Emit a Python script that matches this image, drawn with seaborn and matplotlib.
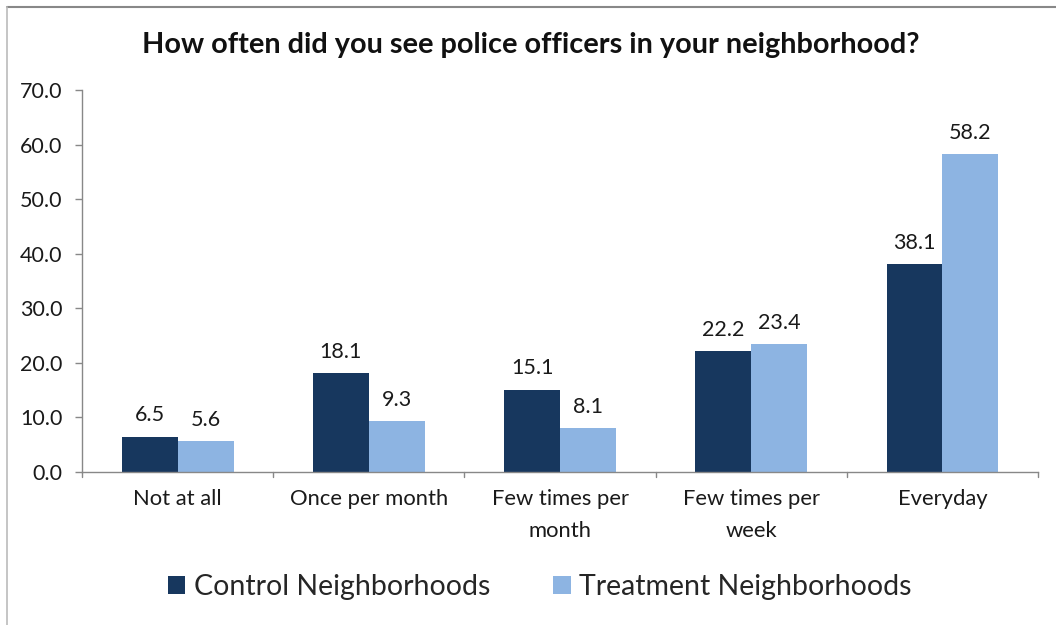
import matplotlib
matplotlib.use("Agg")
import matplotlib.pyplot as plt
from matplotlib.lines import Line2D
import seaborn as sns
import pandas as pd

categories = ["Not at all", "Once per month", "Few times per\nmonth", "Few times per\nweek", "Everyday"]
control = [6.5, 18.1, 15.1, 22.2, 38.1]
treatment = [5.6, 9.3, 8.1, 23.4, 58.2]
series_names = ["Control Neighborhoods", "Treatment Neighborhoods"]
y_ticks = [0, 10, 20, 30, 40, 50, 60, 70]

sns.set_theme(style="white")
plt.rcParams["font.family"] = ["Lato", "DejaVu Sans"]

df = pd.DataFrame({
    "category": categories * 2,
    "value": control + treatment,
    "group": [series_names[0]] * len(categories) + [series_names[1]] * len(categories),
})

fig = plt.figure(figsize=(10.56, 6.25), dpi=100)
ax = fig.add_axes([0.0777, 0.2448, 0.9053, 0.6112])

palette = {series_names[0]: "#17375E", series_names[1]: "#8DB4E2"}
sns.barplot(data=df, x="category", y="value", hue="group", palette=palette,
            order=categories, hue_order=series_names, width=0.585,
            saturation=1, linewidth=0, ax=ax, legend=True)

text_color = "#1a1a1a"
for container in ax.containers:
    ax.bar_label(container, fmt="%.1f", padding=8, fontsize=15.5, color=text_color)

ax.set_ylim(0, 70)
ax.set_xlim(-0.5, len(categories) - 0.5)
ax.set_yticks(y_ticks)
ax.set_yticklabels([f"{v:.1f}" for v in y_ticks], fontsize=15.5, color=text_color)
ax.set_xticks(range(len(categories)))
ax.set_xticklabels(categories, fontsize=15.8, color=text_color, linespacing=1.75)
ax.tick_params(axis="x", length=0, pad=12)
ax.tick_params(axis="y", length=5, width=1, color="#888888", direction="out", left=True, pad=9)

# category boundary ticks on the x axis
for b in [i - 0.5 for i in range(len(categories) + 1)]:
    ax.plot([b, b], [0, -1.0], color="#888888", lw=1, clip_on=False)

for side in ["top", "right"]:
    ax.spines[side].set_visible(False)
for side in ["left", "bottom"]:
    ax.spines[side].set_color("#888888")
    ax.spines[side].set_linewidth(1)

ax.set_xlabel("")
ax.set_ylabel("")

handles, labels = ax.get_legend_handles_labels()
ax.legend_.remove()
fig.legend(handles, labels, loc="center", bbox_to_anchor=(0.511, 0.061), ncol=2,
           frameon=False, fontsize=20.5, handlelength=0.62, handleheight=0.62,
           handletextpad=0.3, columnspacing=2.2)

fig.text(0.503, 0.928, "How often did you see police officers in your neighborhood?",
         ha="center", va="center", fontsize=20.8, fontweight="bold", color="#111111")

# outer frame lines
fig.add_artist(Line2D([7 / 1056, 1], [1 - 7 / 625, 1 - 7 / 625], color="#888888", lw=1.5))
fig.add_artist(Line2D([7 / 1056, 7 / 1056], [0, 1 - 7 / 625], color="#bbbbbb", lw=1.2))

fig.savefig("out.png", dpi=100, facecolor="white")
